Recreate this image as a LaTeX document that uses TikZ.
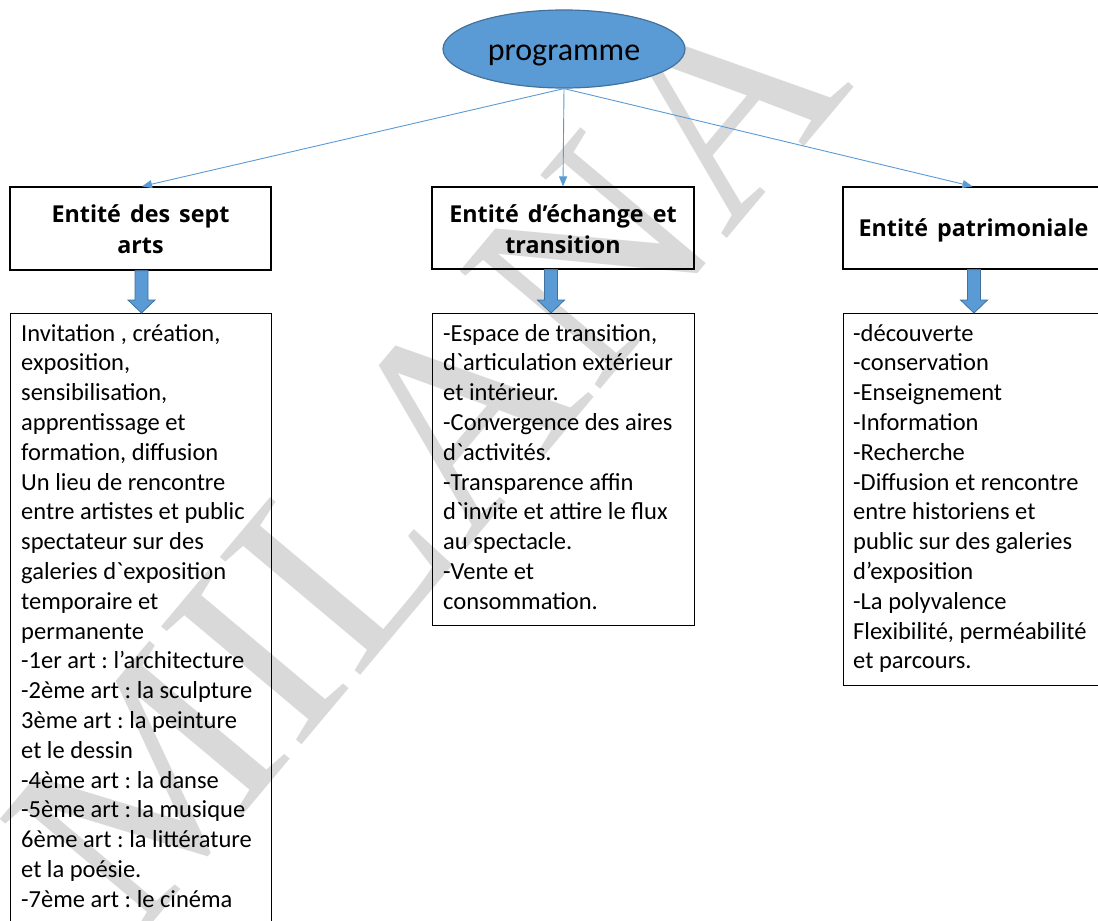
\documentclass[tikz,border=0pt]{standalone}
\usepackage{fontspec}
\setmainfont{Carlito}[Ligatures=TeXOff]
\newfontfamily\headfont{Open Sans}[WordSpace={1.5,1,1}]
\newfontfamily\wmfont{Liberation Serif}
\usetikzlibrary{arrows.meta,calc,shapes.geometric}
\definecolor{accent}{HTML}{5B9BD5}
\definecolor{accentdark}{HTML}{41719C}
\definecolor{wmgray}{HTML}{D9D9D9}
\frenchspacing
\tikzset{
  boxframe/.style={draw=black, line width=1.2pt, rectangle, inner sep=0pt},
  headtext/.style={inner sep=0pt, font=\headfont\bfseries\fontsize{23.3}{31}\selectfont},
  bodytext/.style={inner sep=0pt, anchor=base west, font=\fontsize{24.5}{29.8}\selectfont},
  link/.style={draw=accent, line width=0.9pt, -{Triangle[length=10pt,width=8pt]}},
  fatarr/.style={fill=accent, draw=accentdark, line width=0.8pt},
  progshape/.style={ellipse, fill=accent, draw=accentdark, line width=1.2pt,
    minimum width=242pt, minimum height=78pt, inner sep=0pt},
  progtext/.style={inner sep=0pt, anchor=base, font=\fontsize{32}{36}\selectfont}
}
\newcommand\fatarrow[3]{%
  \path[fatarr] let \p1=(#2), \p2=(#3) in
    (#1pt-6.5pt,\y1) -- (#1pt+6.5pt,\y1) -- (#1pt+6.5pt,\y2+13pt) --
    (#1pt+13.5pt,\y2+13pt) -- (#1pt,\y2) -- (#1pt-13.5pt,\y2+13pt) --
    (#1pt-6.5pt,\y2+13pt) -- cycle;}
\newcommand\lines[2]{\vtop{\hsize=#1\parindent=0pt\parskip=0pt\baselineskip=29.8pt\relax #2}}
\newcommand\hlines[2]{\vtop{\hsize=#1\parindent=0pt\parskip=0pt\centering\baselineskip=31pt\relax #2}}
\begin{document}
\begin{tikzpicture}[x=1pt,y=-1pt]
\useasboundingbox (0,0) rectangle (1098,921);
\fill[white] (0,0) rectangle (1098,921);
% watermark
\node[inner sep=0pt, text=wmgray, rotate=50, font=\wmfont\fontsize{280}{280}\selectfont] (wm) at (425,455) {MILANA};
% top ellipse
\node[progshape] (prog) at (564,49) {};
\node[progtext] (ptext) at (564,60) {programme};
% header boxes
\node[boxframe, minimum width=261pt, minimum height=83pt] (h1) at (140.5,228.5) {};
\node[boxframe, minimum width=262pt, minimum height=82pt] (h2) at (563,228) {};
\node[boxframe, minimum width=259pt, minimum height=82pt] (h3) at (972.5,228) {};
\node[headtext, anchor=base] (t1) at (140.5,222) {\hlines{260pt}{Entité des sept\par arts\par}};
\node[headtext, anchor=base] (t2) at (563,222) {\hlines{260pt}{Entité d’échange et\par transition\par}};
\node[headtext, anchor=base] (t3) at (973.5,236) {Entité patrimoniale};
% body boxes
\node[boxframe, anchor=north west, minimum width=261pt, minimum height=640pt] (b1) at (10,313) {};
\node[boxframe, anchor=north west, minimum width=262pt, minimum height=312pt] (b2) at (432,313) {};
\node[boxframe, anchor=north west, minimum width=259pt, minimum height=372pt] (b3) at (843,313) {};
\node[bodytext] (c1) at (21,341) {\lines{250pt}{%
Invitation , création,\par
exposition,\par
sensibilisation,\par
apprentissage et\par
formation, diffusion\par
Un lieu de rencontre\par
entre artistes et public\par
spectateur sur des\par
galeries d`exposition\par
temporaire et\par
permanente\par
-1er art : l’architecture\par
-2ème art : la sculpture\par
3ème art : la peinture\par
et le dessin\par
-4ème art : la danse\par
-5ème art : la musique\par
6ème art : la littérature\par
et la poésie.\par
-7ème art : le cinéma\par}};
\node[bodytext] (c2) at (443,341) {\lines{250pt}{%
-Espace de transition,\par
d`articulation extérieur\par
et intérieur.\par
-Convergence des aires\par
d`activités.\par
-Transparence affin\par
d`invite et attire le flux\par
au spectacle.\par
-Vente et\par
consommation.\par}};
\node[bodytext] (c3) at (853,341) {\lines{245pt}{%
-découverte\par
-conservation\par
-Enseignement\par
-Information\par
-Recherche\par
-Diffusion et rencontre\par
entre historiens et\par
public sur des galeries\par
d’exposition\par
-La polyvalence\par
Flexibilité, perméabilité\par
et parcours.\par}};
% connectors
\draw[link] (prog.south) -- ($(h1.north)+(1.5,0)$);
\draw[link] (prog.south) -- (h2.north);
\draw[link] (prog.south) -- (h3.north);
% block arrows
\fatarrow{141.5}{h1.south}{b1.north}
\fatarrow{551}{h2.south}{b2.north}
\fatarrow{974}{h3.south}{b3.north}
\end{tikzpicture}
\end{document}
